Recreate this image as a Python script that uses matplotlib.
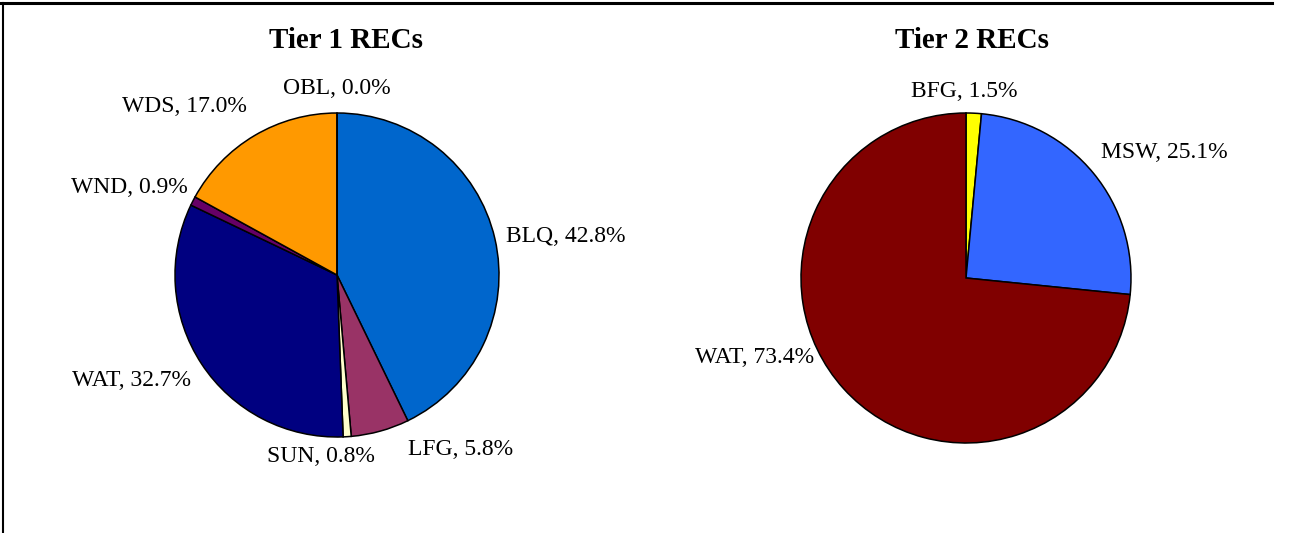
import matplotlib.pyplot as plt
from matplotlib.lines import Line2D

# Tier 1 (clockwise from 12 o'clock)
tier1_names = ['BLQ', 'LFG', 'SUN', 'WAT', 'WND', 'WDS', 'OBL']
tier1_pct = [42.8, 5.8, 0.8, 32.7, 0.9, 17.0, 0.0]
tier1_colors = ['#0066CC', '#993366', '#FFFFCC', '#000080', '#660066', '#FF9900', '#FFFFFF']

# Tier 2
tier2_names = ['BFG', 'MSW', 'WAT']
tier2_pct = [1.5, 25.1, 73.4]
tier2_colors = ['#FFFF00', '#3366FF', '#800000']

# label centres in units of pie radius (dx, dy)
tier1_lbl_pos = {'BLQ': (1.41, 0.24), 'LFG': (0.76, -1.08), 'SUN': (-0.10, -1.12),
                 'WAT': (-1.27, -0.65), 'WND': (-1.28, 0.54), 'WDS': (-0.94, 1.04),
                 'OBL': (0.0, 1.15)}
tier2_lbl_pos = {'BFG': (-0.01, 1.13), 'MSW': (1.20, 0.76), 'WAT': (-1.28, -0.48)}

W, H = 1303, 533
fig = plt.figure(figsize=(W / 100, H / 100), dpi=100)
fig.patch.set_facecolor('white')

serif = ['Liberation Serif', 'DejaVu Serif']


def draw_pie(x0, x1, cx, cy, r, names, vals, colors, lbl_pos, title, tx):
    ax = fig.add_axes([x0 / W, 0, (x1 - x0) / W, 1])
    ax.pie(vals, colors=colors, startangle=90, counterclock=False,
           wedgeprops=dict(edgecolor='black', linewidth=1.1))
    ax.set_aspect('auto')
    ax.set_xlim((x0 - cx) / r, (x1 - cx) / r)
    ax.set_ylim(-(H - cy) / r, cy / r)
    ax.axis('off')
    for n, v in zip(names, vals):
        dx, dy = lbl_pos[n]
        ax.text(dx, dy, '%s, %.1f%%' % (n, v), ha='center', va='center',
                fontsize=17, family=serif)
    fig.text(tx / W, 1 - 40 / H, title, ha='center', va='center',
             fontsize=21, fontweight='bold', family=serif)


draw_pie(0, 650, 337, 275, 162, tier1_names, tier1_pct, tier1_colors,
         tier1_lbl_pos, 'Tier 1 RECs', 346)
draw_pie(650, W, 966, 278, 165, tier2_names, tier2_pct, tier2_colors,
         tier2_lbl_pos, 'Tier 2 RECs', 972)

# frame lines
fig.add_artist(Line2D([0, 1272 / W], [1 - 3 / H, 1 - 3 / H], color='black',
                      linewidth=2.2, transform=fig.transFigure))
fig.add_artist(Line2D([2.5 / W, 2.5 / W], [0, 1 - 3 / H], color='black',
                      linewidth=1.5, transform=fig.transFigure))

fig.savefig('out.png', dpi=100)
